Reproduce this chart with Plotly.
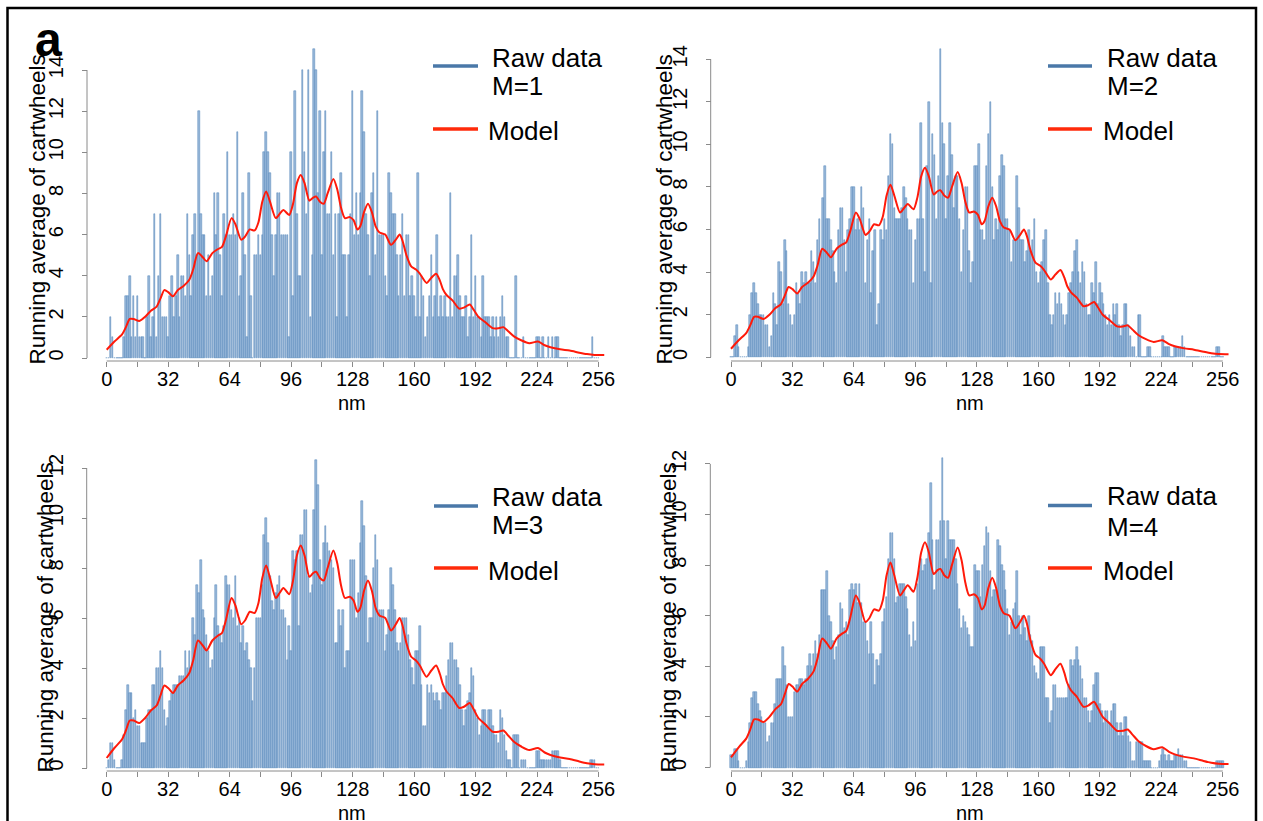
import plotly.graph_objects as go

W, H = 1263, 821

nm_ticks = [0, 32, 64, 96, 128, 160, 192, 224, 256]
nm_minor = [16, 48, 80, 112, 144, 176, 208, 240]
nm_positions = list(range(257))
legend_labels = ["M=1", "M=2", "M=3", "M=4"]
y_title = "Running average of cartwheels"
x_title = "nm"

model_x = [0, 4, 8, 10, 12, 14, 17, 20, 23, 26, 28, 30, 32, 34.5, 37, 40, 43, 45, 47.5, 50,
           52, 55, 58, 60, 62, 65, 67, 70, 72, 74.5, 77, 79, 81, 83, 85, 88, 90, 92, 95, 97,
           99, 101, 103, 105.5, 107.5, 109, 111, 113, 115, 118, 120, 122, 124, 126.5, 128.5,
           130.5, 132, 134, 136, 138, 140, 142, 145, 148, 150.5, 152.5, 154, 156, 158.5, 161,
           163, 166.5, 169, 171.5, 173.5, 175, 177, 180, 183.5, 186, 189, 191, 193.5, 197,
           201, 204, 206.5, 209, 212, 216, 220, 224.5, 228, 231, 236, 241, 246, 250, 254, 259]
model_y = [0.4, 0.8, 1.15, 1.5, 1.9, 1.9, 1.8, 2.0, 2.3, 2.5, 2.9, 3.3, 3.2, 3.0, 3.3, 3.5,
           3.8, 4.3, 5.1, 4.9, 4.7, 5.1, 5.3, 5.4, 5.9, 6.8, 6.5, 5.75, 5.9, 6.25, 6.2, 6.6,
           7.6, 8.1, 7.6, 6.8, 7.0, 7.2, 6.95, 7.5, 8.5, 8.9, 8.5, 7.65, 7.8, 7.85, 7.6, 7.5,
           8.0, 8.7, 8.2, 7.3, 6.8, 6.85, 6.7, 6.25, 6.4, 7.1, 7.5, 7.1, 6.4, 6.1, 6.0, 5.5,
           5.75, 6.0, 5.7, 5.0, 4.45, 4.3, 4.1, 3.65, 3.9, 4.1, 3.75, 3.35, 3.05, 2.8, 2.4,
           2.45, 2.6, 2.35, 2.0, 1.75, 1.45, 1.45, 1.5, 1.3, 1.05, 0.85, 0.72, 0.8, 0.62,
           0.52, 0.42, 0.36, 0.26, 0.19, 0.15, 0.14]

raw_m1 = [0, 0, 2, 1, 0, 0, 0, 0, 0, 1, 3, 3, 4, 1, 3, 1,
          3, 1, 1, 1, 0, 2, 4, 1, 2, 7, 1, 4, 7, 2, 2, 2,
          1, 3, 4, 2, 3, 5, 2, 4, 4, 3, 7, 5, 3, 6, 7, 5,
          12, 7, 6, 6, 3, 5, 3, 4, 8, 6, 8, 5, 3, 7, 6, 10,
          6, 6, 7, 6, 11, 3, 4, 8, 5, 1, 9, 3, 0, 5, 5, 6,
          5, 6, 10, 11, 10, 9, 6, 4, 6, 8, 8, 6, 6, 6, 6, 1,
          10, 3, 13, 7, 4, 4, 14, 10, 7, 14, 2, 5, 15, 14, 8, 12,
          5, 10, 12, 7, 7, 10, 5, 7, 2, 7, 9, 5, 5, 2, 5, 7,
          13, 6, 8, 6, 8, 13, 11, 7, 6, 4, 8, 9, 5, 12, 6, 6,
          6, 4, 3, 9, 8, 7, 7, 5, 3, 5, 7, 3, 6, 6, 3, 4,
          3, 2, 9, 2, 4, 3, 1, 2, 3, 5, 2, 3, 6, 2, 3, 2,
          3, 2, 2, 8, 2, 4, 4, 5, 3, 2, 2, 3, 1, 2, 6, 2,
          4, 2, 2, 1, 4, 2, 2, 2, 1, 2, 1, 2, 1, 2, 3, 2,
          1, 1, 0, 0, 0, 4, 0, 0, 0, 1, 0, 0, 0, 0, 0, 0,
          1, 1, 0, 1, 0, 0, 1, 0, 1, 0, 1, 1, 0, 0, 0, 0,
          0, 0, 0, 0, 0, 0, 0, 0, 0, 0, 0, 0, 0, 1, 0, 0,
          0]

raw_m2 = [0, 0, 1, 1.5, 0.5, 0, 0, 0, 0, 0.5, 2, 3, 3.5, 3, 2.5, 2,
          2, 2, 1.5, 1.5, 0.5, 1, 3, 2.5, 1.5, 4.5, 4, 2.5, 5.5, 5, 2.5, 2,
          1.5, 2, 3.5, 3, 2.5, 4, 3.5, 4, 3.5, 3.5, 5, 4.5, 3.5, 5.5, 6.5, 5,
          7.5, 9, 6.5, 6.5, 5.5, 5, 4, 3.5, 6, 7, 7, 5.5, 4, 6, 6.5, 8,
          8, 6, 6.5, 6, 8, 7, 3.5, 5.5, 6.5, 3, 5, 6, 1.5, 2.5, 6, 5.5,
          6.5, 6, 8.5, 10.5, 10, 7, 6.5, 6.5, 6.5, 7, 8, 7.5, 6.5, 6, 6, 3.5,
          5.5, 6.5, 6.5, 11, 6.5, 4, 9, 12, 3.5, 10.5, 9.5, 6.5, 8.5, 14.5, 11, 10,
          6.5, 8.5, 11, 9.5, 7, 8.5, 8.5, 6.5, 4, 6, 8, 8, 5, 3.5, 4.5, 9,
          9, 10, 6, 6, 5.5, 9, 10.5, 12, 8, 5.5, 6.5, 6, 8.5, 9.5, 9, 6.5,
          6.5, 6, 4.5, 5.5, 5.5, 8.5, 7, 5.5, 5.5, 4.5, 5, 6, 5, 5.5, 6.5, 4,
          3.5, 4, 4.5, 5.5, 6, 3.5, 2, 1.5, 2, 3, 2.5, 3, 2.5, 2, 1.5, 2,
          3, 3.5, 4, 5, 5.5, 4, 3.5, 4.5, 4, 2.5, 2, 2, 3.5, 3, 4.5, 2.5,
          3.5, 3, 2.5, 2, 1.5, 2, 1.5, 2.5, 2, 2.5, 1.5, 1, 1.5, 2.5, 2.5, 1.5,
          1, 0.5, 0.5, 0, 2, 2, 0, 0, 0, 0.5, 0.5, 0, 0, 0, 0, 0,
          0, 1, 0.5, 0.5, 0.5, 0, 0, 0.5, 0.5, 0.5, 0.5, 1, 0.5, 0, 0, 0,
          0, 0, 0, 0, 0, 0, 0, 0, 0, 0, 0, 0, 0, 0.5, 0.5, 0,
          0]

raw_m3 = [0, 0.33, 1, 1, 0.33, 0, 0, 0, 0.33, 1.33, 2.33, 3.33, 3, 3, 2, 2.33,
          1.67, 1.67, 1, 1, 1, 2, 2.33, 2.33, 3.33, 3.33, 4, 4, 4.67, 4, 2.33, 1.67,
          2, 2.67, 3, 3.33, 3.33, 3.33, 3.67, 3.67, 3.67, 4.67, 4, 4.67, 4, 6, 5.33, 7.33,
          7, 8.33, 6.33, 6, 5.33, 4.67, 4, 4.33, 6, 7.33, 5.67, 5.33, 5, 5.67, 7.67, 7.33,
          7.33, 6.33, 6, 7.67, 5.67, 6, 5, 5.67, 4.67, 5, 4.33, 4, 2.67, 4, 6, 6,
          6, 7.33, 9.33, 10, 9, 7.67, 6.67, 6.33, 7, 7.33, 7.67, 6.33, 6.33, 6, 4.33, 5.67,
          4.67, 8.67, 8.33, 8.67, 5.67, 9.33, 9.33, 10.33, 10.33, 7.67, 7, 7.33, 10.33, 12.33, 11.33, 8.33,
          7.33, 9, 9.67, 9, 8.67, 8.33, 8, 5, 5, 6.33, 5.67, 6.33, 4, 4.67, 4.67, 8.33,
          8.33, 8.33, 6, 7, 9, 10.67, 9.67, 7.67, 5, 6, 6, 8, 9.33, 8.33, 6.33, 6.33,
          6.33, 4.67, 5.33, 6.33, 8, 7.33, 6.33, 5, 4.67, 5, 6, 6, 6, 5.33, 4.33, 4,
          3.33, 4.67, 4.67, 5.67, 3.33, 1.67, 1.67, 3.33, 3, 3.33, 3, 2.67, 3, 2.67, 2.33, 3,
          3, 3.67, 4.33, 5, 5, 4.33, 4.33, 4, 3.33, 2.33, 1.67, 2.33, 2.67, 3, 4, 3.67,
          2.33, 2, 1.33, 1.67, 2.33, 2.33, 1.67, 2.33, 2.33, 1.67, 1.33, 1.33, 1, 2.33, 2, 1.33,
          0.67, 0.33, 0.33, 0, 1.33, 1.33, 1.33, 0, 0.33, 0.33, 0.33, 0, 0, 0, 0, 0,
          0.67, 0.67, 0.33, 0.33, 0.33, 0.33, 0.33, 0.33, 0.67, 0.67, 0.67, 0.67, 0.33, 0, 0, 0,
          0, 0, 0, 0, 0, 0, 0, 0, 0, 0, 0, 0, 0.33, 0.33, 0.33, 0,
          0]

raw_m4 = [0.5, 0.5, 0.75, 0.75, 0.25, 0, 0, 0, 0.25, 1, 1.75, 2.75, 3, 3, 2.5, 2.25,
          2, 1.75, 1.75, 1, 1.25, 1.75, 1.75, 2.5, 3.5, 3.5, 3.5, 4.75, 4, 3.25, 2, 2,
          2, 3, 3.25, 3.25, 3.5, 3.5, 3.25, 3.5, 4, 4.5, 4, 4.5, 5, 4.5, 5.25, 7,
          7, 7, 7.75, 6, 5.75, 5, 4.25, 4.75, 5.25, 6.5, 6.25, 5.5, 5.75, 5.25, 7, 7.25,
          7, 7.25, 6.5, 7.25, 6.5, 5.75, 5.75, 5, 4.5, 5.75, 4.5, 3.25, 4.25, 4, 4.5, 5.75,
          6.25, 6.75, 8.25, 9.25, 9.25, 8.25, 6.5, 6.75, 7.25, 7.25, 7.25, 6.75, 6.25, 5.25, 4.75, 5.75,
          5, 7.25, 7.75, 8.25, 7.75, 8, 8.25, 9.25, 11.25, 9, 7, 9, 9, 9.75, 12.25, 9.75,
          8.25, 9.75, 9, 9, 9, 8.25, 7.25, 6.25, 5.5, 6, 5.75, 5.5, 5.25, 4.75, 4.75, 8,
          7.75, 7.75, 6.75, 8, 8.75, 9.5, 9.25, 7.75, 6.75, 7, 7, 9, 8.75, 8, 7.75, 7,
          6.25, 5.25, 5.75, 6.25, 6.5, 7.75, 6, 5.25, 6, 5.5, 5, 6, 5.25, 5, 4, 3.75,
          3.5, 4.75, 4.75, 4.75, 2.75, 2.75, 1.75, 2.25, 3.25, 3.25, 2.75, 2.75, 2.75, 2.75, 2.75, 2.75,
          3.25, 4.25, 4, 4.25, 4.75, 4.25, 4, 3.5, 2.75, 2.75, 2.25, 1.75, 2.25, 3.25, 3.75, 3.75,
          2.5, 2.25, 1.75, 2.25, 2.25, 1.75, 2.25, 2.5, 2.5, 1.75, 1.25, 1.75, 1.25, 2, 2, 1.25,
          1, 0.25, 0.25, 1, 1, 1, 1, 0.25, 0.25, 0.25, 0.25, 0, 0, 0, 0, 0.25,
          0.5, 0.75, 0.5, 0.25, 0.5, 0.25, 0.25, 0.5, 0.5, 0.75, 0.5, 0.5, 0.25, 0.25, 0, 0,
          0, 0, 0, 0, 0, 0, 0, 0, 0, 0, 0, 0, 0, 0.25, 0.25, 0.25,
          0.25]

raw_series = [raw_m1, raw_m2, raw_m3, raw_m4]
y_tick_tops = [14, 14, 12, 12]

# pixel geometry of each panel (layout only)
panels = [
    dict(x_zero=106.7, ppn=1.921, x_left=95, x_right=615, y_zero=358.0, ppu=20.57,
         y_top=38, y_bot=361, yaxis_px=87, title_x=37.5, title_y=210, nm_x=352, nm_y=403,
         leg_line_x=(433, 478), leg_text_x=490, leg_model_x=486,
         leg_y=dict(blue=66, raw=58, m=86, red=129, model=131)),
    dict(x_zero=731.0, ppn=1.921, x_left=718, x_right=1240, y_zero=357.3, ppu=21.29,
         y_top=38, y_bot=361, yaxis_px=710.7, title_x=664.5, title_y=210, nm_x=970, nm_y=403,
         leg_line_x=(1048, 1092), leg_text_x=1105, leg_model_x=1101,
         leg_y=dict(blue=66, raw=58, m=86, red=129, model=131)),
    dict(x_zero=106.7, ppn=1.921, x_left=95, x_right=615, y_zero=768.0, ppu=25.0,
         y_top=448, y_bot=771, yaxis_px=86.7, title_x=44.5, title_y=618, nm_x=352, nm_y=813,
         leg_line_x=(434, 478), leg_text_x=490, leg_model_x=486,
         leg_y=dict(blue=506, raw=497, m=525, red=568, model=571)),
    dict(x_zero=731.0, ppn=1.921, x_left=718, x_right=1240, y_zero=767.5, ppu=25.3,
         y_top=448, y_bot=771, yaxis_px=710.3, title_x=667.5, title_y=618, nm_x=970, nm_y=813,
         leg_line_x=(1048, 1092), leg_text_x=1105, leg_model_x=1101,
         leg_y=dict(blue=505.5, raw=496, m=527, red=568, model=571)),
]

FONT = "Liberation Sans, Arial, Helvetica, sans-serif"
AXIS_GRAY = "#8a8a8a"
BAR_FILL = "#9ab9da"
BAR_EDGE = "#4f82b6"
RED = "#ff1a0a"
LEG_BLUE = "#4a78a8"
LEG_RED = "#ff2a0a"

def px_x(p):
    return p / W

def px_y(p):
    return 1 - p / H

fig = go.Figure()
shapes = []
annotations = []
layout = {}

for i, (pan, raw, lab, ytop) in enumerate(zip(panels, raw_series, legend_labels, y_tick_tops), start=1):
    sfx = "" if i == 1 else str(i)
    xa, ya = "x" + sfx, "y" + sfx
    fig.add_trace(go.Bar(x=nm_positions, y=raw, width=0.78,
                         marker=dict(color=BAR_FILL, line=dict(color=BAR_EDGE, width=0.5)),
                         xaxis=xa, yaxis=ya, showlegend=False, hoverinfo="x+y"))
    fig.add_trace(go.Scatter(x=model_x, y=model_y, mode="lines",
                             line=dict(color=RED, width=2, shape="spline", smoothing=0.7),
                             xaxis=xa, yaxis=ya, showlegend=False))
    xr = [(pan["x_left"] - pan["x_zero"]) / pan["ppn"], (pan["x_right"] - pan["x_zero"]) / pan["ppn"]]
    yr = [-(pan["y_bot"] - pan["y_zero"]) / pan["ppu"], (pan["y_zero"] - pan["y_top"]) / pan["ppu"]]
    layout["xaxis" + sfx] = dict(
        domain=[px_x(pan["x_left"]), px_x(pan["x_right"])], range=xr, anchor=ya,
        showgrid=False, zeroline=False, showline=False,
        tickmode="array", tickvals=nm_ticks, ticktext=[str(t) for t in nm_ticks],
        ticks="outside", ticklen=5, tickwidth=1, tickcolor=AXIS_GRAY,
        minor=dict(tickmode="array", tickvals=nm_minor, ticks="outside", ticklen=5,
                   tickwidth=1, tickcolor=AXIS_GRAY, showgrid=False),
        tickfont=dict(family=FONT, size=20, color="black"), ticklabelstandoff=-5)
    layout["yaxis" + sfx] = dict(
        domain=[px_y(pan["y_bot"]), px_y(pan["y_top"])], range=yr, anchor="free",
        position=px_x(pan["yaxis_px"]), showgrid=False, zeroline=False, showline=False,
        tickmode="array", tickvals=list(range(0, ytop + 1, 2)),
        ticks="outside", ticklen=5, tickwidth=1, tickcolor=AXIS_GRAY, tickangle=-90,
        tickfont=dict(family=FONT, size=20, color="black"), ticklabelstandoff=11)
    # axis lines spanning the tick range (R style)
    shapes.append(dict(type="line", xref=xa, yref="paper", x0=nm_ticks[0], x1=nm_ticks[-1],
                       y0=px_y(pan["y_bot"]), y1=px_y(pan["y_bot"]),
                       line=dict(color=AXIS_GRAY, width=1)))
    shapes.append(dict(type="line", xref="paper", yref=ya, x0=px_x(pan["yaxis_px"]),
                       x1=px_x(pan["yaxis_px"]), y0=0, y1=ytop,
                       line=dict(color=AXIS_GRAY, width=1)))
    # titles
    annotations.append(dict(text=y_title, x=px_x(pan["title_x"]), y=px_y(pan["title_y"]),
                            xref="paper", yref="paper", textangle=-90, showarrow=False,
                            xanchor="center", yanchor="middle",
                            font=dict(family=FONT, size=22.5, color="black")))
    annotations.append(dict(text=x_title, x=px_x(pan["nm_x"]), y=px_y(pan["nm_y"]),
                            xref="paper", yref="paper", showarrow=False,
                            xanchor="center", yanchor="middle",
                            font=dict(family=FONT, size=20, color="black")))
    # legend
    lx0, lx1 = pan["leg_line_x"]
    ly = pan["leg_y"]
    shapes.append(dict(type="line", xref="paper", yref="paper", x0=px_x(lx0), x1=px_x(lx1),
                       y0=px_y(ly["blue"]), y1=px_y(ly["blue"]),
                       line=dict(color=LEG_BLUE, width=3.5)))
    shapes.append(dict(type="line", xref="paper", yref="paper", x0=px_x(lx0), x1=px_x(lx1),
                       y0=px_y(ly["red"]), y1=px_y(ly["red"]),
                       line=dict(color=LEG_RED, width=3.5)))
    for txt, tx, tyk in [("Raw data", pan["leg_text_x"], "raw"), (lab, pan["leg_text_x"], "m"),
                         ("Model", pan["leg_model_x"], "model")]:
        annotations.append(dict(text=txt, x=px_x(tx), y=px_y(ly[tyk]), xref="paper", yref="paper",
                                showarrow=False, xanchor="left", yanchor="middle",
                                font=dict(family=FONT, size=26, color="black")))

# panel letter and frame
annotations.append(dict(text="<b>a</b>", x=px_x(48), y=px_y(40), xref="paper", yref="paper",
                        showarrow=False, xanchor="center", yanchor="middle",
                        font=dict(family=FONT, size=48, color="black")))
shapes.append(dict(type="rect", xref="paper", yref="paper", x0=px_x(7.5), x1=px_x(1256),
                   y0=px_y(835), y1=px_y(8), line=dict(color="black", width=2.5),
                   fillcolor="rgba(0,0,0,0)", layer="above"))

fig.update_layout(width=W, height=H, margin=dict(l=0, r=0, t=0, b=0),
                  paper_bgcolor="white", plot_bgcolor="white", bargap=0,
                  showlegend=False, shapes=shapes, annotations=annotations, **layout)

fig.write_html("out.html")
